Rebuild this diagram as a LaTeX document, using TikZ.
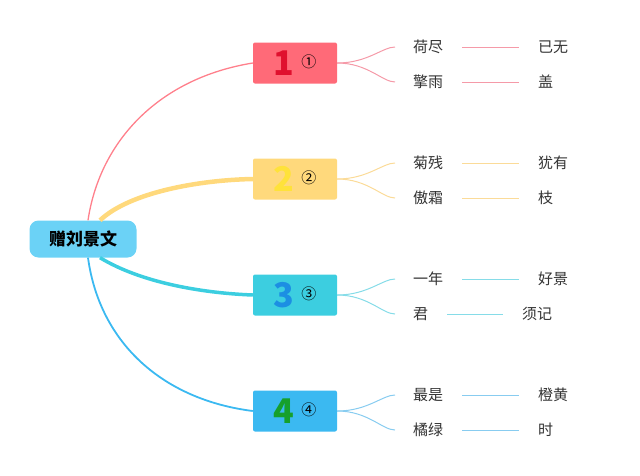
\documentclass[tikz,border=0pt]{standalone}
\usepackage{fontspec}
\setmainfont{Noto Sans CJK SC}
\newfontfamily\cjk{Noto Sans CJK SC}
\usetikzlibrary{positioning}

\definecolor{rootblue}{HTML}{6BD2F6}
\definecolor{boxred}{HTML}{FF6A78}
\definecolor{boxyellow}{HTML}{FFD97C}
\definecolor{boxcyan}{HTML}{3CCEE0}
\definecolor{boxblue}{HTML}{3BB9F1}
\definecolor{numred}{HTML}{E0102E}
\definecolor{numyellow}{HTML}{FFE23A}
\definecolor{numblue}{HTML}{1C8FE3}
\definecolor{numgreen}{HTML}{16A02C}
\definecolor{linered}{HTML}{F59AA8}
\definecolor{lineyellow}{HTML}{FBDB98}
\definecolor{linecyan}{HTML}{86DCE8}
\definecolor{lineblue}{HTML}{88CCF0}
\definecolor{txt}{HTML}{333333}

\newcommand{\boxnum}[3]{{\bfseries\fontsize{34}{34}\selectfont\color{#1}#2}\hspace{7pt}\raisebox{8pt}{\fontsize{15}{15}\selectfont #3}}

\tikzset{
  numbox/.style={rectangle, rounded corners=2pt, minimum width=84pt, minimum height=41pt, inner sep=0pt},
  leaf/.style={anchor=west, inner sep=0pt, text=txt, font=\cjk\fontsize{15}{15}\selectfont},
  twig/.style={line width=1pt, shorten >=18pt},
  link/.style={line width=1pt, shorten <=19pt, shorten >=19pt}
}

\begin{document}
\begin{tikzpicture}[x=1pt,y=-1pt]
  \useasboundingbox (0,0) rectangle (640,475);

  % Root
  \node[rectangle, rounded corners=9pt, fill=rootblue, minimum width=107pt, minimum height=37pt,
        font=\cjk\bfseries\fontsize{17}{17}\selectfont] (root) at (83,239) {赠刘景文};

  % Boxes
  \node[numbox, fill=boxred] (b1) at (295,63) {\boxnum{numred}{1}{①}};
  \node[numbox, fill=boxyellow] (b2) at (295,179) {\boxnum{numyellow}{2}{②}};
  \node[numbox, fill=boxcyan] (b3) at (295,295) {\boxnum{numblue}{3}{③}};
  \node[numbox, fill=boxblue] (b4) at (295,411) {\boxnum{numgreen}{4}{④}};

  % Main branches
  \draw[boxred!85!white, line width=1.3pt] ([xshift=5pt]root.north) .. controls (100,140) and (160,78) .. (b1.west);
  \draw[boxyellow, line width=4.5pt] ([xshift=17pt]root.north) .. controls (130,192) and (200,180) .. (b2.west);
  \draw[boxcyan, line width=3.5pt] ([xshift=17pt]root.south) .. controls (140,282) and (200,293) .. (b3.west);
  \draw[boxblue, line width=1.8pt] ([xshift=5pt]root.south) .. controls (100,345) and (165,400) .. (b4.west);

  % Leaves
  \node[leaf] (a1) at (413,47) {荷尽};
  \node[leaf] (a2) at (413,82) {擎雨};
  \node[leaf] (c1) at (538,47) {已无};
  \node[leaf] (c2) at (538,82) {盖};

  \node[leaf] (a3) at (413,163) {菊残};
  \node[leaf] (a4) at (413,198) {傲霜};
  \node[leaf] (c3) at (538,163) {犹有};
  \node[leaf] (c4) at (538,198) {枝};

  \node[leaf] (a5) at (413,279) {一年};
  \node[leaf] (a6) at (413,314) {君};
  \node[leaf] (c5) at (538,279) {好景};
  \node[leaf] (c6) at (522,314) {须记};

  \node[leaf] (a7) at (413,395) {最是};
  \node[leaf] (a8) at (413,430) {橘绿};
  \node[leaf] (c7) at (538,395) {橙黄};
  \node[leaf] (c8) at (538,430) {时};

  % Twigs
  \draw[twig, linered] (b1.east) to[out=0, in=180] (a1.west);
  \draw[twig, linered] (b1.east) to[out=0, in=180] (a2.west);
  \draw[twig, lineyellow] (b2.east) to[out=0, in=180] (a3.west);
  \draw[twig, lineyellow] (b2.east) to[out=0, in=180] (a4.west);
  \draw[twig, linecyan] (b3.east) to[out=0, in=180] (a5.west);
  \draw[twig, linecyan] (b3.east) to[out=0, in=180] (a6.west);
  \draw[twig, lineblue] (b4.east) to[out=0, in=180] (a7.west);
  \draw[twig, lineblue] (b4.east) to[out=0, in=180] (a8.west);

  % Links
  \draw[link, linered] (a1.east) -- (c1.west);
  \draw[link, linered] (a2.east) -- (c2.west);
  \draw[link, lineyellow] (a3.east) -- (c3.west);
  \draw[link, lineyellow] (a4.east) -- (c4.west);
  \draw[link, linecyan] (a5.east) -- (c5.west);
  \draw[link, linecyan] (a6.east) -- (c6.west);
  \draw[link, lineblue] (a7.east) -- (c7.west);
  \draw[link, lineblue] (a8.east) -- (c8.west);

\end{tikzpicture}
\end{document}
